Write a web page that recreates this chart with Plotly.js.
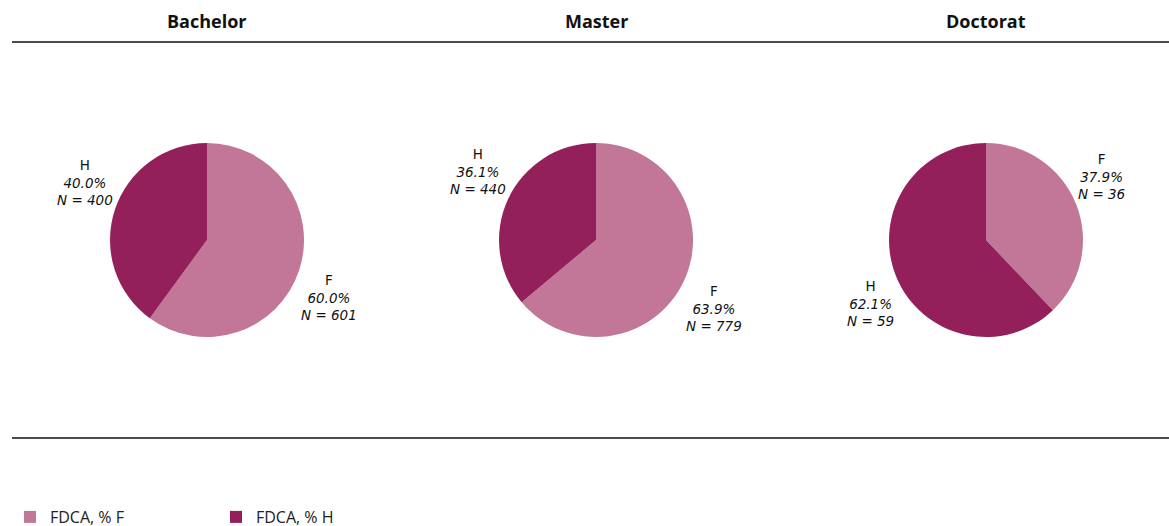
<!DOCTYPE html>
<html><head><meta charset="utf-8">
<script src="https://cdn.plot.ly/plotly-3.0.1.min.js"></script>
<style>html,body{margin:0;padding:0;background:#fff;overflow:hidden;width:1169px;height:526px}#chart{width:1169px;height:534px}</style>
</head><body><div id="chart"></div>
<script>
const groups = ["Bachelor", "Master", "Doctorat"];
const sliceLabels = ["F", "H"];
const seriesNames = ["FDCA, % F", "FDCA, % H"];
const bachelorN = [601, 400];
const masterN = [779, 440];
const doctoratN = [36, 59];
const colors = ["#c27698", "#94205b"];

const W = 1169, PH = 534; // figure is a little taller than the window: legend is clipped at the bottom like the original
const centersX = [207, 596, 986];
const centerY = 240, R = 97;
const allN = [bachelorN, masterN, doctoratN];
const FONT = "Open Sans, sans-serif";
const LABEL_FONT = "DejaVu Sans, sans-serif";

const traces = allN.map((vals, i) => ({
  type: "pie",
  values: vals,
  labels: seriesNames,
  sort: false,
  direction: "clockwise",
  rotation: 0,
  marker: {colors: colors, line: {width: 0}},
  textinfo: "none",
  hoverinfo: "label+value+percent",
  showlegend: i === 0,
  domain: {
    x: [(centersX[i] - R) / W, (centersX[i] + R) / W],
    y: [1 - (centerY + R) / PH, 1 - (centerY - R) / PH]
  }
}));

const annotations = groups.map((g, i) => ({
  text: "<b>" + g + "</b>",
  xref: "paper", yref: "paper",
  x: centersX[i] / W, y: 1 - 21 / PH,
  xanchor: "center", yanchor: "middle",
  showarrow: false,
  font: {family: FONT, size: 18, color: "#111"}
}));

// slice labels placed at the mid-angle of each slice (computed from the values)
allN.forEach((vals, i) => {
  const total = vals.reduce((a, b) => a + b, 0);
  let cum = 0;
  vals.forEach((v, j) => {
    const mid = (cum + v / 2) / total * 2 * Math.PI; // clockwise from 12 o'clock
    cum += v;
    const dx = Math.sin(mid), dy = -Math.cos(mid);
    const px = centersX[i] + R * dx, py = centerY + R * dy;
    const pct = (v / total * 100).toFixed(1);
    annotations.push({
      text: sliceLabels[j] + "<br><i>" + pct + "%</i><br><i>N = " + v + "</i>",
      xref: "paper", yref: "paper",
      x: px / W, y: 1 - py / PH,
      xanchor: dx >= 0 ? "left" : "right",
      yanchor: dy >= 0 ? "top" : "bottom",
      align: "center",
      showarrow: false,
      font: {family: LABEL_FONT, size: 13.5, color: "#111"}
    });
  });
});

const layout = {
  width: W, height: PH,
  margin: {l: 0, r: 0, t: 0, b: 0},
  paper_bgcolor: "#fff",
  annotations: annotations,
  shapes: [
    {type: "line", xref: "paper", yref: "paper", x0: 12 / W, x1: 1, y0: 1 - 42 / PH, y1: 1 - 42 / PH, line: {color: "#111", width: 1.5}},
    {type: "line", xref: "paper", yref: "paper", x0: 12 / W, x1: 1, y0: 1 - 438 / PH, y1: 1 - 438 / PH, line: {color: "#111", width: 1.5}}
  ],
  legend: {
    orientation: "h",
    x: 10 / W, y: 0,
    xanchor: "left", yanchor: "bottom",
    entrywidth: 161,
    font: {family: FONT, size: 16, color: "#222"},
    itemclick: false, itemdoubleclick: false
  }
};

Plotly.newPlot("chart", traces, layout, {displayModeBar: false, staticPlot: true});
</script></body></html>
